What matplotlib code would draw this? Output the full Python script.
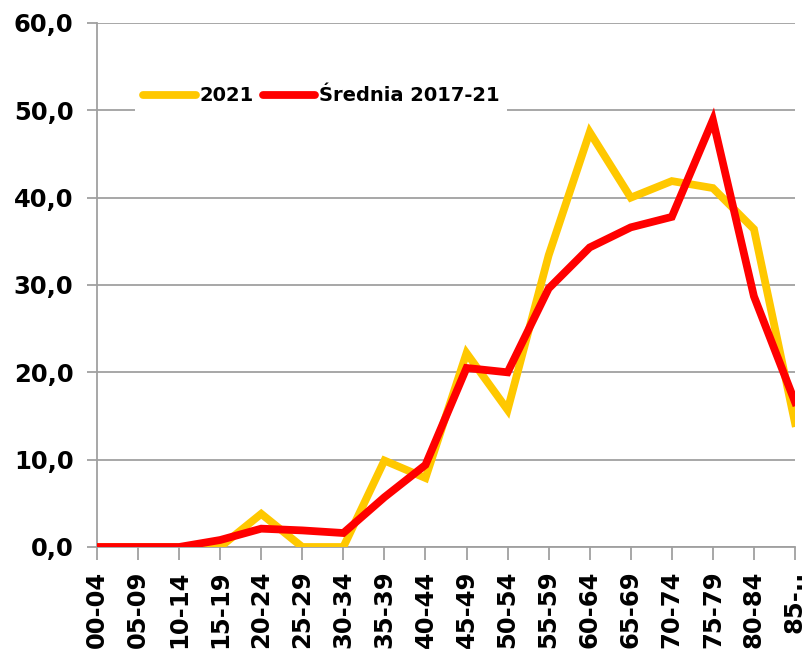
import numpy as np
import matplotlib
matplotlib.use('Agg')
import matplotlib.pyplot as plt

# grupy wiekowe i wartości wskaźnika
grupy = ['00-04', '05-09', '10-14', '15-19', '20-24', '25-29', '30-34', '35-39',
         '40-44', '45-49', '50-54', '55-59', '60-64', '65-69', '70-74', '75-79',
         '80-84', '85-..']
rok_2021 = [0.0, 0.0, 0.0, 0.0, 3.8, 0.0, 0.0, 9.9, 7.9, 22.2, 15.7, 33.4,
            47.5, 40.0, 41.9, 41.1, 36.4, 14.2]
srednia = [0.0, 0.0, 0.0, 0.8, 2.1, 1.9, 1.6, 5.7, 9.4, 20.5, 20.0, 29.6,
           34.3, 36.6, 37.8, 48.9, 28.7, 16.6]

plt.rcParams['font.family'] = ['DejaVu Sans']
plt.rcParams['font.weight'] = 'bold'

fig = plt.figure(figsize=(8.1, 6.57), dpi=100)
ax = fig.add_axes([97 / 810, 1 - 547 / 657, 698 / 810, 524 / 657])

x = np.arange(len(grupy))
ax.plot(x, rok_2021, color='#FFC800', lw=5.6, solid_joinstyle='miter', label='2021', zorder=3)
ax.plot(x, srednia, color='#FF0000', lw=5.6, solid_joinstyle='miter', label='Średnia 2017-21', zorder=4)

ax.set_xlim(0, len(grupy) - 1)
ax.set_ylim(0, 60)
ax.set_yticks(np.arange(0, 61, 10))
ax.set_yticklabels([('%.1f' % v).replace('.', ',') for v in np.arange(0, 61, 10)],
                   fontsize=17.5, fontweight='bold')
ax.set_xticks(x)
ax.set_xticklabels(grupy, rotation=90, fontsize=17.5, fontweight='bold', va='top')

ax.grid(axis='y', color='#A0A0A0', lw=1.3, zorder=1)
for s in ['top', 'right']:
    ax.spines[s].set_visible(False)
for s in ['left', 'bottom']:
    ax.spines[s].set_color('#A0A0A0')
    ax.spines[s].set_linewidth(1.3)
ax.tick_params(axis='y', length=7, width=1.3, color='#A0A0A0', pad=10)
ax.tick_params(axis='x', length=9, width=1.3, color='#A0A0A0', pad=8)

leg = ax.legend(loc='center left', bbox_to_anchor=(0.055, 0.861), ncol=2,
                frameon=True, fancybox=False, framealpha=1, edgecolor='none',
                facecolor='white', prop={'size': 14, 'weight': 'bold'},
                handlelength=2.7, handletextpad=0.2, columnspacing=0.45,
                borderpad=0.4, borderaxespad=0)
leg.set_zorder(5)
for h in leg.get_lines():
    h.set_linewidth(5.6)
    h.set_solid_capstyle('round')

fig.savefig('out.png', dpi=100)
